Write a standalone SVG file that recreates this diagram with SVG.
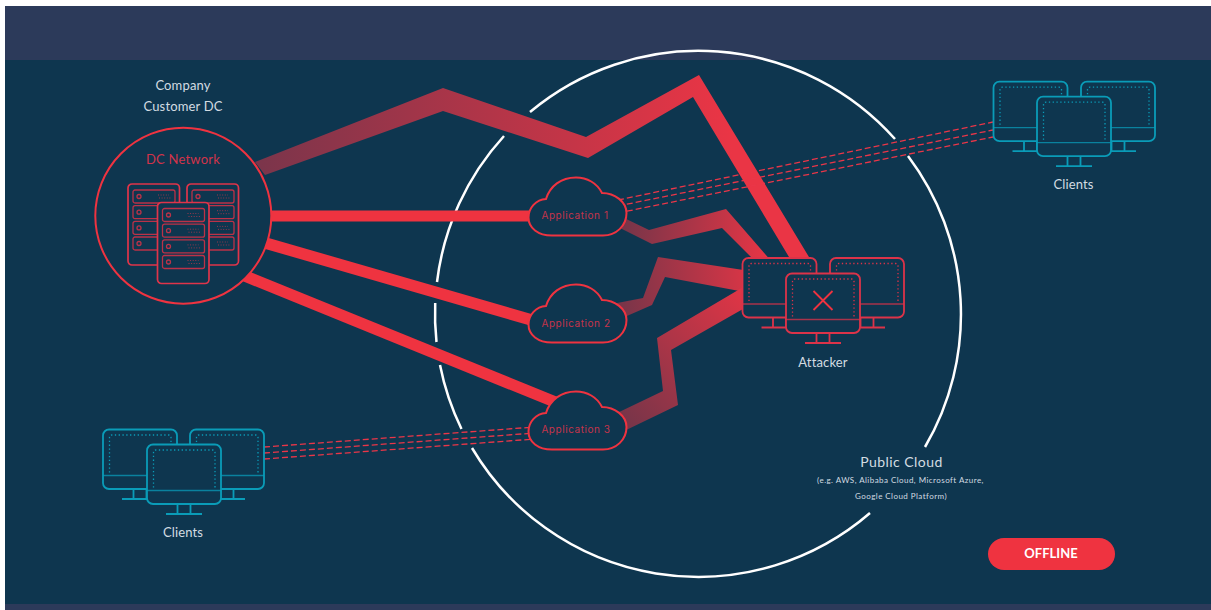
<svg xmlns="http://www.w3.org/2000/svg" width="1211" height="610" viewBox="0 0 1211 610">
<style>
.t{font-family:"Lato","Liberation Sans",sans-serif;fill:#d3dce2;text-anchor:middle}
.l{font-size:13px;letter-spacing:.15px}
.p{font-size:14px;letter-spacing:.45px}
.s{font-size:8px;letter-spacing:.45px}
.a{font-family:"Inter","Liberation Sans",sans-serif;font-size:10px;fill:#c5344b;text-anchor:middle;letter-spacing:.55px}
.arc{fill:none;stroke:#fff;stroke-width:2.5}
.band{stroke:#ef3340;fill:none}
.dash{stroke:#ea3648;stroke-width:1.3;stroke-dasharray:6 3;fill:none}
.mon{fill:#0e364f;stroke:currentColor;stroke-width:1.8}
.thin{fill:none;stroke:currentColor;stroke-width:1.8}
.div{fill:none;stroke:currentColor;stroke-width:1.3;opacity:.75}
.dot{fill:none;stroke:currentColor;stroke-width:1.3;stroke-dasharray:1.3 2.5}
.red{color:#dc3349}
.cy{color:#0a9cb8}
.srv{fill:#0e364f;stroke:#e0344a;stroke-width:1.7}
.sl{fill:none;stroke:#bb3248;stroke-width:1.3}
.sd{fill:none;stroke:#96384d;stroke-width:1;stroke-dasharray:1 1.6}
.cl{fill:#0e364f;stroke:#ef3340;stroke-width:2}
</style>
<defs>
<linearGradient id="g0" gradientUnits="userSpaceOnUse" x1="255" y1="170" x2="730" y2="120"><stop offset="0" stop-color="#7a354b"/><stop offset="1" stop-color="#ea3545"/></linearGradient>
<linearGradient id="g1" gradientUnits="userSpaceOnUse" x1="625" y1="225" x2="770" y2="235"><stop offset="0" stop-color="#773549"/><stop offset="1" stop-color="#e83545"/></linearGradient>
<linearGradient id="g2" gradientUnits="userSpaceOnUse" x1="618" y1="300" x2="770" y2="280"><stop offset="0" stop-color="#773549"/><stop offset="1" stop-color="#e83545"/></linearGradient>
<linearGradient id="g3" gradientUnits="userSpaceOnUse" x1="622" y1="420" x2="760" y2="290"><stop offset="0" stop-color="#773549"/><stop offset="1" stop-color="#e83545"/></linearGradient>
<g id="monitor">
<path class="thin" d="M30.500 59v10.500M43.500 59v10.500M19 69.500h36"/>
<rect class="mon" width="74" height="59.500" rx="6"/>
<path class="div" d="M0 46h74"/>
<path class="dot" d="M6.500 43V8q0-2.500 2.500-2.500h56.500q2.500 0 2.500 2.500v35"/>
</g>
<g id="slot">
<rect class="sl" width="42" height="13" rx="2"/>
<circle class="sl" cx="6" cy="6.500" r="2"/>
<path class="sd" d="M25 5h11M26 8h12"/>
</g>
<g id="server">
<rect class="srv" width="51.500" height="81" rx="4"/>
<use href="#slot" x="5" y="6"/>
<use href="#slot" x="5" y="21.700"/>
<use href="#slot" x="5" y="37.400"/>
<use href="#slot" x="5" y="53"/>
</g>
<path id="cloud" d="M552 235.500H603C616 235.500 626.500 226 626.500 213C626.500 202 615 193 602 193C597 183 587 177.500 576 177.500C561 177.500 550 186 546 199C536 199.500 528.500 208 528.500 217.500C528.500 228 538 235.500 552 235.500Z"/>
</defs>
<rect x="5" y="6" width="1206" height="604" fill="#0e364f"/>
<rect x="5" y="6" width="1206" height="54" fill="#2c3a5a"/>
<rect x="5" y="604" width="1206" height="6" fill="#2c3a5a"/>
<g id="public-cloud">
<path class="arc" d="M530 112A263 263 0 0 1 895 139"/>
<path class="arc" d="M908 156A263 263 0 0 1 925 447"/>
<path class="arc" d="M870 513A263 263 0 0 1 472 448"/>
<path class="arc" d="M461.500 429A263 263 0 0 1 440 365"/>
<path class="arc" d="M436.500 342A263 263 0 0 1 435.200 303"/>
<path class="arc" d="M437 282A263 263 0 0 1 504 136"/>
<text class="t p" x="901.500" y="467">Public Cloud</text>
<text class="t s" x="900.500" y="483">(e.g. AWS, Alibaba Cloud, Microsoft Azure,</text>
<text class="t s" x="901" y="499">Google Cloud Platform)</text>
</g>
<g id="connectors">
<path class="band" stroke-width="11" d="M262 216H535"/>
<path class="band" stroke-width="11.500" d="M255 240L535 321"/>
<path class="band" stroke-width="11.500" d="M245 276L560 404"/>
<polygon fill="url(#g0)" points="255,162 443,88 586,137 699,75 812,262 792,262 693,97 588,158 443,111 265,175"/>
<polygon fill="url(#g1)" points="620,216 649,230 726,209 772,262 756,262 722,228 652,244 620,228"/>
<polygon fill="url(#g2)" points="612,304 643,298 658,257 750,271 750,293 665,277 652,305 620,319"/>
<polygon fill="url(#g3)" points="615,414 663,391 657,338 750,283 750,305 671,350 678,405 620,433"/>
<path class="dash" d="M618 200L993 122M618 206L993 130M618 213L993 137"/>
<path class="dash" d="M264 447L535 427M264 453L535 433M264 459L535 439"/>
</g>
<g id="dc-network">
<circle cx="183.300" cy="215.700" r="88" fill="#0e364f" stroke="#ef3340" stroke-width="2"/>
<text x="183" y="164" font-family="Lato,'Liberation Sans',sans-serif" font-size="13px" letter-spacing=".2" fill="#d2334a" text-anchor="middle">DC Network</text>
<use href="#server" x="128" y="184"/>
<use href="#server" x="187" y="184"/>
<use href="#server" x="157.500" y="202.500"/>
</g>
<g id="dc-label">
<text class="t l" x="183" y="90">Company</text>
<text class="t l" x="183" y="111">Customer DC</text>
</g>
<g id="app-1"><use href="#cloud" class="cl"/><text class="a" x="575" y="218.500">Application 1</text></g>
<g id="app-2"><use href="#cloud" class="cl" y="107"/><text class="a" x="576" y="326.500">Application 2</text></g>
<g id="app-3"><use href="#cloud" class="cl" y="214"/><text class="a" x="576" y="433">Application 3</text></g>
<g id="attacker" class="red">
<use href="#monitor" x="742.500" y="258"/>
<use href="#monitor" x="830" y="258"/>
<use href="#monitor" x="786" y="273.500"/>
<path d="M813.500 291L832.500 310M832.500 291L813.500 310" stroke="#ef3340" stroke-width="1.800" fill="none"/>
<text class="t l" x="823" y="367">Attacker</text>
</g>
<g id="clients-top" class="cy">
<use href="#monitor" x="993.500" y="81.700"/>
<use href="#monitor" x="1081" y="81.700"/>
<use href="#monitor" x="1037" y="96.700"/>
<text class="t l" x="1073.500" y="189">Clients</text>
</g>
<g id="clients-bottom" class="cy">
<use href="#monitor" x="103" y="429.500"/>
<use href="#monitor" x="190" y="429.500"/>
<use href="#monitor" x="147" y="444.500"/>
<text class="t l" x="183" y="537">Clients</text>
</g>
<g id="offline">
<rect x="988" y="538" width="127" height="32" rx="16" fill="#ef3340"/>
<text x="1051" y="558" font-family="Lato,'Liberation Sans',sans-serif" font-weight="700" font-size="13px" fill="#fff" text-anchor="middle">OFFLINE</text>
</g>
</svg>
